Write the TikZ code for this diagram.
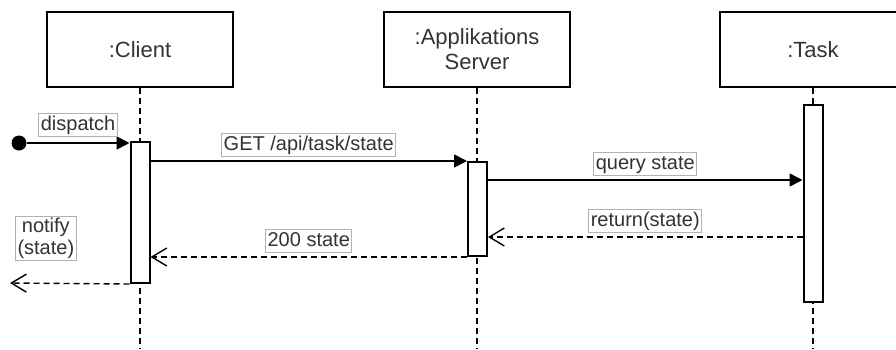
\documentclass[tikz,border=0pt]{standalone}
\usepackage{fontspec}
\setmainfont{Liberation Sans}
\usetikzlibrary{arrows.meta,positioning,calc}
\tikzset{
    head/.style={draw,line width=1.8pt,fill=white,minimum width=186pt,minimum height=75pt,align=center,font=\fontsize{22}{25}\selectfont,text=black!80},
    act/.style={draw,line width=2pt,fill=white,minimum width=19pt,inner sep=0pt},
    lifeline/.style={line width=1.4pt,dash pattern=on 6pt off 4pt},
    msglabel/.style={draw=black!30,solid,line width=1pt,fill=white,inner sep=2pt,font=\fontsize{20}{22}\selectfont,text=black!80,align=center},
    onerow/.style={text height=14.5pt,text depth=4.5pt},
    call/.style={-{Triangle[length=13pt,width=13pt]},line width=1.7pt},
    reply/.style={-{Straight Barb[length=15pt,width=18pt,line width=1.4pt]},line width=1.4pt,dash pattern=on 6pt off 4pt},
}

\begin{document}
\begin{tikzpicture}[x=1pt,y=-1pt]
\useasboundingbox (0,0) rectangle (896,349);
% --- Lifeline heads ---
                \node[head] (client) at (140,49.5) {:Client};
                \node[head] (server) at (477,49.5) {:Applikations\\Server};
                \node[head] (task) at (813,49.5) {:Task};
% Dashed lifelines down to the bottom
                \draw[lifeline] (client.south) -- (client.south |- 0,349);
                \draw[lifeline] (server.south) -- (server.south |- 0,349);
                \draw[lifeline] (task.south) -- (task.south |- 0,349);
% --- Activation bars ---
                \node[act,minimum height=141pt] (clientAct) at (140,212.5) {};
                \node[act,minimum height=94pt] (serverAct) at (477.5,209) {};
                \node[act,minimum height=197pt] (taskAct) at (813,203.5) {};
% --- Found message ---
                \node[circle,fill,minimum size=15pt,inner sep=0pt] (start) at (19,143) {};
                \draw[call] (start) -- (start -| clientAct.west)
                    node[msglabel,onerow,midway,above=6pt] {dispatch};
% --- Calls ---
                \draw[call] (clientAct.east |- serverAct.north) -- (serverAct.north west)
                    node[msglabel,onerow,midway,above=4pt] {GET /api/task/state};
                \draw[call] (serverAct.east |- 0,180) -- (taskAct.west |- 0,180)
                    node[msglabel,onerow,midway,above=4pt] {query state};
% --- Replies ---
                \draw[reply] (taskAct.west |- 0,237) -- (serverAct.east |- 0,237)
                    node[msglabel,onerow,midway,above=4pt] {return(state)};
                \draw[reply] (serverAct.south west) -- (serverAct.south west -| clientAct.east)
                    node[msglabel,onerow,midway,above=4pt] {200 state};
                \coordinate (out) at (10,283);
                \draw[reply] (clientAct.south west) -- (out)
                    node[msglabel,pos=0.7,above=22pt] {notify\\(state)};
\end{tikzpicture}
\end{document}
